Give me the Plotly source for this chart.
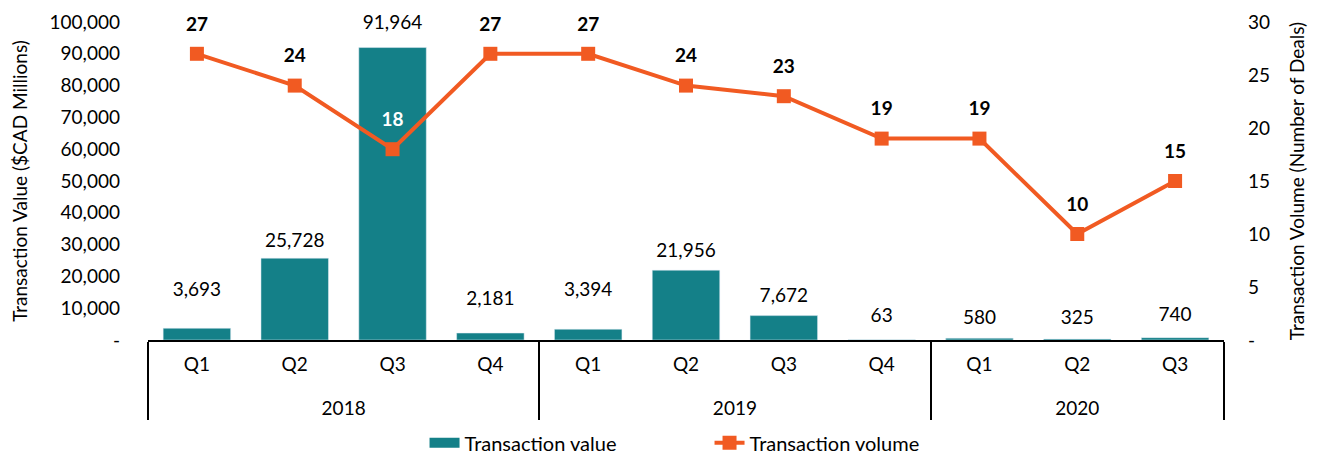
import plotly.graph_objects as go

years = ["2018"] * 4 + ["2019"] * 4 + ["2020"] * 3
quarters = ["Q1", "Q2", "Q3", "Q4", "Q1", "Q2", "Q3", "Q4", "Q1", "Q2", "Q3"]
transaction_value = [3693, 25728, 91964, 2181, 3394, 21956, 7672, 63, 580, 325, 740]
transaction_volume = [27, 24, 18, 27, 27, 24, 23, 19, 19, 10, 15]

# label styling (pixel gaps between value and label centre)
value_label_gap = [39, 22, 28, 36, 40, 24, 24, 28, 25, 25, 27]
volume_label_gap = 32
volume_label_colors = ["black", "black", "white"] + ["black"] * 8

TEAL = "#148088"
ORANGE = "#F15A22"
FONT = "Lato"
FS = 19

x = [years, [q + "<br> " for q in quarters]]

fig = go.Figure()
fig.add_trace(go.Bar(
    x=x, y=transaction_value, name="Transaction value",
    marker=dict(color=TEAL), yaxis="y", width=0.69, showlegend=False,
))
# legend swatch for the bars (wide rectangle like the reference)
fig.add_trace(go.Scatter(
    x=[[years[0]], [x[1][0]]], y=[None], name="Transaction value", yaxis="y",
    mode="lines", line=dict(color=TEAL, width=15), hoverinfo="skip",
))
fig.add_trace(go.Scatter(
    x=x, y=transaction_volume, name="Transaction volume", yaxis="y2",
    mode="lines+markers", line=dict(color=ORANGE, width=4),
    marker=dict(symbol="square", size=14, color=ORANGE),
))
# value labels for bars
fig.add_trace(go.Scatter(
    x=x, y=transaction_value, yaxis="y", mode="text+markers",
    marker=dict(size=[max(2 * (g - 18), 1) for g in value_label_gap], opacity=0),
    text=[f"{v:,}" for v in transaction_value], textposition="top center",
    textfont=dict(family=FONT, size=FS, color="black"), cliponaxis=False,
    showlegend=False, hoverinfo="skip",
))
# volume labels
fig.add_trace(go.Scatter(
    x=x, y=transaction_volume, yaxis="y2", mode="text+markers",
    marker=dict(size=2 * (volume_label_gap - 18), opacity=0),
    text=[f"<b>{v}</b>" for v in transaction_volume], textposition="top center",
    textfont=dict(family=FONT, size=FS, color=volume_label_colors), cliponaxis=False,
    showlegend=False, hoverinfo="skip",
))

left_ticks = list(range(0, 100001, 10000))
right_ticks = list(range(0, 31, 5))

fig.update_layout(
    width=1315, height=448,
    margin=dict(l=140, r=99, t=14, b=116, autoexpand=False),
    paper_bgcolor="white", plot_bgcolor="white",
    font=dict(family=FONT, size=FS, color="black"),
    bargap=0.31,
    showlegend=True,
    legend=dict(orientation="h", x=0.257, xanchor="left", y=-0.262, yanchor="top",
                font=dict(size=20), traceorder="normal",
                entrywidth=240, entrywidthmode="pixels",
                tracegroupgap=0, itemsizing="trace"),
    xaxis=dict(
        type="multicategory", range=[-0.5, 10.5], autorange=False,
        showline=True, linecolor="black", linewidth=2,
        showdividers=True, dividercolor="black", dividerwidth=2,
        tickfont=dict(size=FS), ticks="", automargin=False, ticklabelstandoff=6,
    ),
    yaxis=dict(
        range=[0, 100000], tickvals=left_ticks,
        ticktext=["-"] + [f"{v:,}" for v in left_ticks[1:]],
        showgrid=False, zeroline=False, showline=False, automargin=False,
        title=dict(text="Transaction Value ($CAD Millions)", font=dict(size=FS), standoff=20),
        ticks="", ticklabelstandoff=27,
    ),
    yaxis2=dict(
        range=[0, 30], tickvals=right_ticks,
        ticktext=["-"] + [str(v) for v in right_ticks[1:]],
        overlaying="y", side="right", showgrid=False, zeroline=False, showline=False,
        automargin=False,
        title=dict(text="Transaction Volume (Number of Deals)", font=dict(size=FS), standoff=21),
        ticks="", ticklabelstandoff=23,
    ),
)

fig.write_html("out.html")
